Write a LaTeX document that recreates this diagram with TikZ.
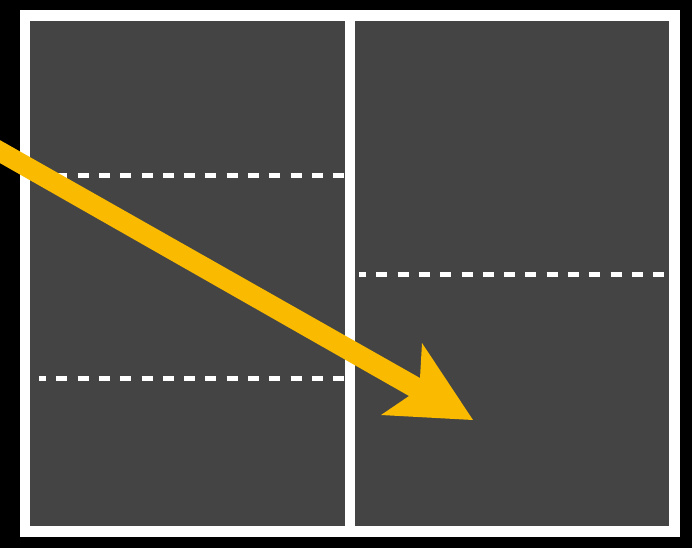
\documentclass[tikz,border=0pt]{standalone}
\definecolor{fondo}{RGB}{68,68,68}
\definecolor{flecha}{RGB}{249,186,0}
\tikzset{
  raya/.style={white, line width=5pt, dash pattern=on 11pt off 10.3pt, dash phase=4pt}
}
\begin{document}
\begin{tikzpicture}[x=1pt, y=-1pt]
  % el fondo negro
  \fill[black] (0,0) rectangle (692,548);
  \useasboundingbox (0,0) rectangle (692,548);
  % el marco blanco y los dos paneles
  \fill[white] (20,10) rectangle (680,537);
  \fill[fondo] (30,21) rectangle (345,526);
  \fill[fondo] (355,21) rectangle (669,526);
  % las lineas de trazos
  \draw[raya] (39,175) -- (344.5,175);
  \draw[raya] (39,378) -- (344.5,378);
  \draw[raya] (359,274) -- (665,274);
  % la flecha
  \fill[flecha] (-2,139) -- (420,378) -- (422,343) -- (473,420)
    -- (381,415) -- (409,396) -- (-2,162) -- cycle;
\end{tikzpicture}
\end{document}
